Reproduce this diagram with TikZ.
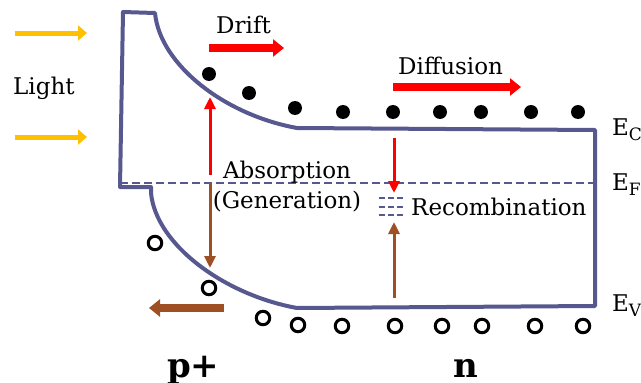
\documentclass[tikz,border=0pt]{standalone}
\usepackage{fontspec}
\setmainfont{DejaVu Serif}
\usetikzlibrary{arrows.meta}
\definecolor{band}{RGB}{88,88,145}
\definecolor{gold}{RGB}{255,192,0}
\definecolor{brn}{RGB}{158,80,36}
\begin{document}
\begin{tikzpicture}[x=1pt,y=-1pt,
  lbl/.style={font=\fontsize{23}{28}\selectfont, inner sep=0pt, anchor=base west},
  big/.style={font=\fontsize{34}{40}\selectfont\bfseries, inner sep=0pt, anchor=base west},
  electron/.style={circle, fill=black, minimum size=14pt, inner sep=0pt},
  hole/.style={circle, draw=black, line width=3pt, minimum size=13.5pt, inner sep=0pt},
  lightarrow/.style={gold, line width=5pt, -{Triangle[width=15pt,length=9pt]}},
  blockarrow/.style={line width=8.5pt, -{Triangle[width=17pt,length=11pt]}},
  thinarrow/.style={line width=3pt, -{Triangle[width=11pt,length=12pt]}},
  bandline/.style={band, line width=4pt, line join=round},
  fermi/.style={band, line width=1.2pt, dash pattern=on 8pt off 4pt},
  trap/.style={band, line width=1.2pt, dash pattern=on 6pt off 3pt}]
\useasboundingbox (0,0) rectangle (641,383);

% band outline
\draw[bandline] (123,12) -- (155,13)
  .. controls (160,65) and (225,115) .. (297,128) -- (595,130) -- (595,306)
  -- (297,308) .. controls (225,295) and (156,245) .. (151,193)
  -- (151,187) -- (120,187) -- cycle;

% Fermi level and trap levels
\coordinate (fL) at (120,183);
\coordinate (fR) at (595,183);
\draw[fermi] (fL) -- (fR);
\foreach \i/\y in {1/198,2/207,3/215}{
  \coordinate (tL\i) at (379,\y);
  \coordinate (tR\i) at (405,\y);
  \draw[trap] (tL\i) -- (tR\i);
}

% light arrows
\coordinate (l1a) at (15,33);  \coordinate (l1b) at (87,33);
\coordinate (l2a) at (15,137); \coordinate (l2b) at (87,137);
\draw[lightarrow] (l1a) -- (l1b);
\draw[lightarrow] (l2a) -- (l2b);

% drift / diffusion / hole drift
\coordinate (dra) at (209,48);  \coordinate (drb) at (284,48);
\coordinate (dfa) at (393,87);  \coordinate (dfb) at (521,87);
\coordinate (hda) at (224,308); \coordinate (hdb) at (149,308);
\draw[blockarrow, red] (dra) -- (drb);
\draw[blockarrow, red, line width=8pt] (dfa) -- (dfb);
\draw[blockarrow, brn] (hda) -- (hdb);

% vertical arrows
\coordinate (abA) at (210,175); \coordinate (abB) at (210,97);
\coordinate (gnA) at (210,183); \coordinate (gnB) at (210,268);
\coordinate (rcA) at (394,138); \coordinate (rcB) at (394,193);
\coordinate (rhA) at (394,298); \coordinate (rhB) at (394,222);
\draw[thinarrow, red] (abA) -- (abB);
\draw[thinarrow, brn] (gnA) -- (gnB);
\draw[thinarrow, red] (rcA) -- (rcB);
\draw[thinarrow, brn] (rhA) -- (rhB);

% electrons
\foreach \i/\x/\y in {1/209/74,2/249/93,3/295/108,4/343/112,5/393/112,6/440/112,7/481/112,8/531/112,9/578/112}
  \node[electron] (e\i) at (\x,\y) {};
% holes
\foreach \i/\x/\y in {1/155/243,2/209/288,3/263/318,4/298/325,5/342/326,6/395/326,7/442/326,8/482/326,9/535/326,10/583/326}
  \node[hole] (h\i) at (\x,\y) {};

% labels
\node[lbl] (light) at (13,94) {Light};
\node[lbl] (drift) at (216,33) {Drift};
\node[lbl] (diff) at (398,74) {Diffusion};
\node[lbl, anchor=base] (abs) at (287,178) {Absorption};
\node[lbl, anchor=base] (gen) at (287,208) {(Generation)};
\node[lbl] (rec) at (411,215) {Recombination};
\node[lbl] (ec) at (612,135) {E\raisebox{-5pt}{\fontsize{17}{17}\selectfont C}};
\node[lbl] (ef) at (612,190) {E\raisebox{-5pt}{\fontsize{17}{17}\selectfont F}};
\node[lbl] (ev) at (612,311) {E\raisebox{-5pt}{\fontsize{17}{17}\selectfont V}};
\node[big] (p) at (167,377) {p+};
\node[big] (n) at (453,377) {n};
\end{tikzpicture}
\end{document}
